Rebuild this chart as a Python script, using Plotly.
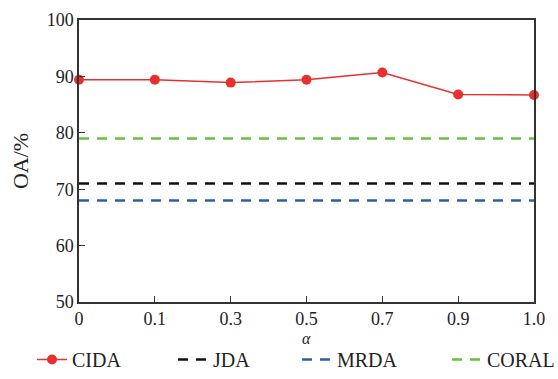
import plotly.graph_objects as go

alphas = ["0", "0.1", "0.3", "0.5", "0.7", "0.9", "1.0"]
cida = [89.4, 89.4, 88.9, 89.4, 90.7, 86.8, 86.7]
jda_value = 71.0
mrda_value = 68.0
coral_value = 79.0

font_family = "Liberation Serif, Times New Roman, serif"
red = "#E8312F"
black = "#111111"
blue = "#2E5DAA"
green = "#6BBF3F"

fig = go.Figure()
fig.add_trace(go.Scatter(
    x=alphas, y=cida, name="CIDA", mode="lines+markers",
    line=dict(color=red, width=1.5),
    marker=dict(color=red, size=10),
    cliponaxis=False, legend="legend",
))
legend_ids = ["legend2", "legend3", "legend4"]
for (name, val, col), lg in zip([("JDA", jda_value, black), ("MRDA", mrda_value, blue), ("CORAL", coral_value, green)], legend_ids):
    fig.add_trace(go.Scatter(
        x=[alphas[0], alphas[-1]], y=[val, val], name=name, mode="lines",
        line=dict(color=col, width=2.4, dash="10px,8px"),
        legend=lg,
    ))

def leg(xpx):
    return dict(orientation="h", x=xpx / 558, xref="container", xanchor="left",
                y=0.0, yref="container", yanchor="bottom",
                font=dict(size=20, family=font_family, color="#222222"),
                bgcolor="rgba(0,0,0,0)")

fig.update_layout(
    width=558, height=379,
    margin=dict(l=79, r=24, t=20, b=77),
    paper_bgcolor="white", plot_bgcolor="white",
    font=dict(family=font_family, size=18, color="#222222"),
    showlegend=True,
    legend=leg(32),
    legend2=leg(173),
    legend3=leg(297),
    legend4=leg(447),
)
fig.add_annotation(
    text="<i>α</i>", x=0.5, xref="paper", y=-0.128, yref="paper",
    xanchor="center", yanchor="middle", showarrow=False,
    font=dict(size=16, family=font_family, color="#222222"),
)
fig.update_xaxes(
    type="category", range=[0, 6],
    showline=True, linecolor="#333333", linewidth=1.5, mirror=True,
    ticks="inside", ticklen=6, tickcolor="#333333",
    showgrid=False, zeroline=False, automargin=False,
)
fig.update_yaxes(
    range=[50, 100], tickvals=[50, 60, 70, 80, 90, 100],
    showline=True, linecolor="#333333", linewidth=1.5, mirror=True,
    ticks="inside", ticklen=6, tickcolor="#333333",
    showgrid=False, zeroline=False, automargin=False,
    title=dict(text="OA/%", standoff=12),
)

fig.write_html("out.html")
